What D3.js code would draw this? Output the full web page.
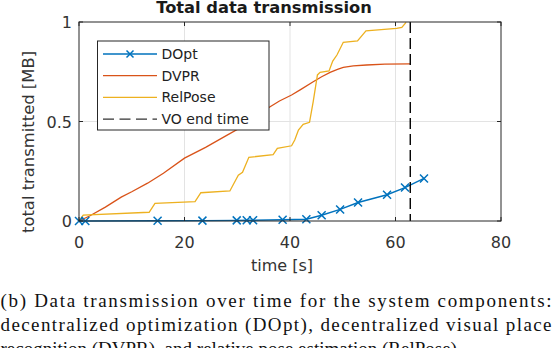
<!DOCTYPE html>
<html>
<head>
<meta charset="utf-8">
<script src="https://cdn.jsdelivr.net/npm/d3@7"></script>
<style>
  body { margin: 0; background: #fff; }
  svg { display: block; }
  .sans { font-family: "DejaVu Sans", "Liberation Sans", Arial, sans-serif; }
  .serif { font-family: "Liberation Serif", "Times New Roman", serif; }
</style>
</head>
<body>
<svg width="552" height="348"></svg>
<script>
// series (time in s, data in MB)
var doptT = [0, 1.2, 14.9, 23.4, 29.9, 31.8, 33.0, 38.6, 43.1, 46.0, 49.5, 52.9, 58.4, 61.8, 65.4];
var doptV = [0, 0, 0.001, 0.002, 0.003, 0.004, 0.004, 0.006, 0.009, 0.029, 0.058, 0.093, 0.132, 0.168, 0.214];

var dvprT = [0, 2, 5, 8, 10, 13, 16, 20, 24, 28, 32, 36, 38, 40.3, 42, 44.4, 46, 47.6, 49, 50.1, 52, 54.5, 58, 62.8];
var dvprV = [0, 0.025, 0.07, 0.12, 0.147, 0.19, 0.24, 0.316, 0.37, 0.43, 0.49, 0.57, 0.603, 0.633, 0.66, 0.70, 0.725, 0.747, 0.762, 0.772, 0.78, 0.784, 0.788, 0.79];

var relT = [0, 0.8, 13.3, 14.4, 22.0, 23.1, 28.6, 30.2, 31.0, 32.2, 36.8, 37.6, 38.1, 40.3, 40.9, 41.6, 42.5, 43.7, 44.4, 45.2, 45.7, 47.4, 48.1, 48.9, 50.1, 52.8, 54.4, 60.2, 61.2, 62.0];
var relV = [0, 0.03, 0.044, 0.089, 0.097, 0.142, 0.151, 0.23, 0.245, 0.32, 0.333, 0.365, 0.368, 0.378, 0.407, 0.457, 0.486, 0.496, 0.60, 0.734, 0.747, 0.754, 0.804, 0.834, 0.898, 0.905, 0.956, 0.968, 0.973, 0.998];

var voEnd = 62.8;

var xTicks = [0, 20, 40, 60, 80];
var yTicks = [0, 0.5, 1];
var yTickLabels = ["0", "0.5", "1"];

var legendNames = ["DOpt", "DVPR", "RelPose", "VO end time"];
var colors = ["#0072BD", "#D95319", "#EDB120", "#000000"];

var caption = [
  "(b) Data transmission over time for the system components:",
  "decentralized optimization (DOpt), decentralized visual place",
  "recognition (DVPR), and relative pose estimation (RelPose)."
];

var svg = d3.select("svg");
var axisColor = "#262626";

var x = d3.scaleLinear().domain([0, 80]).range([79, 501]);
var y = d3.scaleLinear().domain([0, 1]).range([221, 22]);

function zip(ts, vs) { return ts.map(function(t, i) { return [t, vs[i]]; }); }

// grid
var grid = svg.append("g").attr("stroke", "#e3e3e3").attr("stroke-width", 1);
grid.selectAll("line.gx").data(xTicks.slice(1, -1)).enter().append("line")
  .attr("x1", d => x(d)).attr("x2", d => x(d)).attr("y1", y(0)).attr("y2", y(1));
grid.selectAll("line.gy").data(yTicks.slice(1, -1)).enter().append("line")
  .attr("x1", x(0)).attr("x2", x(80)).attr("y1", d => y(d)).attr("y2", d => y(d));

// data lines
var line = d3.line().x(d => x(d[0])).y(d => y(d[1]));
var plot = svg.append("g");

plot.append("path").datum(zip(dvprT, dvprV))
  .attr("fill", "none").attr("stroke", colors[1]).attr("stroke-width", 1.3).attr("d", line);
plot.append("path").datum(zip(relT, relV))
  .attr("fill", "none").attr("stroke", colors[2]).attr("stroke-width", 1.3).attr("d", line);
plot.append("path").datum(zip(doptT, doptV))
  .attr("fill", "none").attr("stroke", colors[0]).attr("stroke-width", 1.4).attr("d", line);

function cross(g, cx, cy, s) {
  g.append("path")
    .attr("d", "M" + (cx - s) + "," + (cy - s) + "L" + (cx + s) + "," + (cy + s) +
               "M" + (cx - s) + "," + (cy + s) + "L" + (cx + s) + "," + (cy - s))
    .attr("stroke", colors[0]).attr("stroke-width", 1.5).attr("fill", "none");
}
zip(doptT, doptV).forEach(function(d) { cross(plot, x(d[0]), y(d[1]), 4); });

// VO end time
plot.append("line")
  .attr("x1", x(voEnd)).attr("x2", x(voEnd)).attr("y1", y(1)).attr("y2", y(0))
  .attr("stroke", colors[3]).attr("stroke-width", 1.4).attr("stroke-dasharray", "11,5");

// axes box with inward ticks
var ax = svg.append("g").attr("stroke", axisColor).attr("stroke-width", 1).attr("fill", "none");
ax.append("rect").attr("x", x(0)).attr("y", y(1)).attr("width", x(80) - x(0)).attr("height", y(0) - y(1));
xTicks.forEach(function(t) {
  ax.append("line").attr("x1", x(t)).attr("x2", x(t)).attr("y1", y(0)).attr("y2", y(0) - 4);
  ax.append("line").attr("x1", x(t)).attr("x2", x(t)).attr("y1", y(1)).attr("y2", y(1) + 4);
});
yTicks.forEach(function(t) {
  ax.append("line").attr("x1", x(0)).attr("x2", x(0) + 4).attr("y1", y(t)).attr("y2", y(t));
  ax.append("line").attr("x1", x(80)).attr("x2", x(80) - 4).attr("y1", y(t)).attr("y2", y(t));
});

// tick labels
var labels = svg.append("g").attr("class", "sans").attr("fill", "#333").style("font-size", "16px");
labels.selectAll("text.xt").data(xTicks).enter().append("text")
  .attr("x", d => x(d)).attr("y", 248).attr("text-anchor", "middle").text(d => d);
labels.selectAll("text.yt").data(yTicks).enter().append("text")
  .attr("x", 72).attr("y", d => y(d) + 6).attr("text-anchor", "end").text((d, i) => yTickLabels[i]);

labels.append("text").attr("x", 282).attr("y", 271).attr("text-anchor", "middle").text("time [s]");
labels.append("text").attr("transform", "translate(34,142) rotate(-90)")
  .attr("text-anchor", "middle").style("font-size", "16.4px").text("total transmitted [MB]");

svg.append("text").attr("class", "sans").attr("x", 264).attr("y", 13)
  .attr("text-anchor", "middle").attr("fill", "#1a1a1a")
  .style("font-size", "16.3px").style("font-weight", "bold")
  .text("Total data transmission");

// legend
var lg = svg.append("g");
lg.append("rect").attr("x", 97.5).attr("y", 41).attr("width", 171.5).attr("height", 89)
  .attr("fill", "#fff").attr("stroke", axisColor).attr("stroke-width", 1);
legendNames.forEach(function(name, i) {
  var ry = 54 + i * 21.7;
  var l = lg.append("line").attr("x1", 103).attr("x2", 157).attr("y1", ry).attr("y2", ry)
    .attr("stroke", i == 3 ? "#333" : colors[i]).attr("stroke-width", 1.3);
  if (i == 3) l.attr("stroke-dasharray", "11,5.5");
  if (i == 0) cross(lg, 130, ry, 3.5);
  lg.append("text").attr("class", "sans").attr("x", 161.5).attr("y", ry + 5)
    .attr("fill", "#222").style("font-size", "14px").text(name);
});

// caption
var cap = svg.append("g").attr("class", "serif").attr("fill", "#111").style("font-size", "19px");
caption.forEach(function(t, i) {
  var tx = cap.append("text").attr("x", 0.5).attr("y", 306.5 + i * 24).text(t);
  if (i < 2) tx.attr("textLength", 551).attr("lengthAdjust", "spacing");
});
</script>
</body>
</html>
